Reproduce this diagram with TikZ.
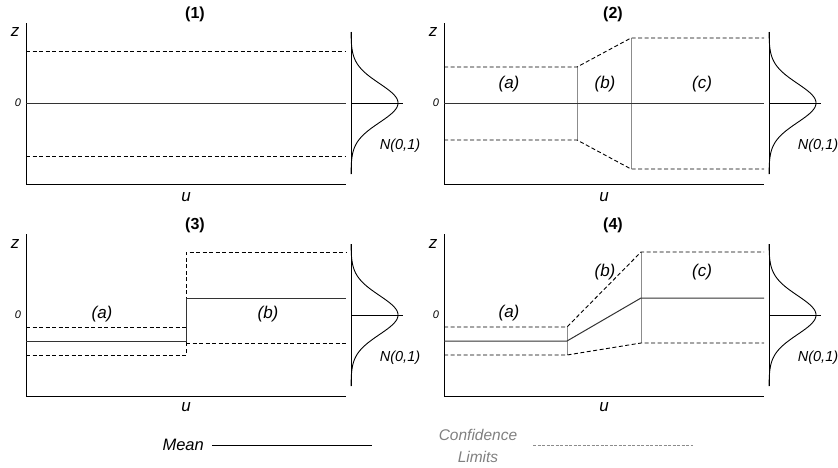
\documentclass[tikz,border=0pt]{standalone}
\usepackage{fontspec}
\setmainfont{Liberation Sans}
\begin{document}
\begin{tikzpicture}[x=1pt,y=-1pt,
  axisline/.style={black,line width=0.9pt},
  meanline/.style={black!80,line width=1pt},
  conf/.style={black,line width=0.9pt,dash pattern=on 4pt off 2.5pt},
  guide/.style={black!45,line width=0.8pt},
  lbl/.style={font=\itshape\fontsize{17}{17}\selectfont,inner sep=0pt},
  nlbl/.style={font=\itshape\fontsize{14.5}{14.5}\selectfont,inner sep=0pt},
  zero/.style={font=\itshape\fontsize{11}{11}\selectfont,inner sep=0pt},
  ttl/.style={font=\bfseries\fontsize{16}{16}\selectfont,inner sep=0pt},
  gcurve/.style={black,line width=0.9pt}]
\useasboundingbox (0,0) rectangle (838,467);
% gaussian macro
\newcommand{\gaussplot}[3]{%
  \draw[gcurve] (#1,#2-71) -- (#1,#2+71);
  \draw[gcurve] (#1,#2) -- (#1+52,#2);
  \draw[gcurve] plot[domain=-71:71,samples=140,smooth] ({#1+47*exp(-(\x)*(\x)/760)},{#2+\x});
  \node[nlbl] (#3) at (#1+49,#2+43) {N(0,1)};}
% ---------- panel 1
\node[ttl] (t1) at (195,14) {(1)};
\node[lbl] (z1) at (15,32) {z};
\node[zero] (o1) at (18,103) {0};
\node[lbl] (u1) at (186,197) {u};
\draw[axisline] (26,23) -- (26,184) -- (346,184);
\draw[meanline] (26,103) -- (346,103);
\draw[conf] (26,51) -- (346,51);
\draw[conf] (26,156) -- (346,156);
\gaussplot{351}{103}{n1}
% ---------- panel 2
\node[ttl] (t2) at (613,14) {(2)};
\node[lbl] (z2) at (433,32) {z};
\node[zero] (o2) at (436,103) {0};
\node[lbl] (u2) at (604,197) {u};
\draw[axisline] (444,23) -- (444,184) -- (764,184);
\draw[guide] (577,67) -- (577,140);
\draw[guide] (631,38) -- (631,169);
\draw[meanline] (444,103) -- (764,103);
\draw[conf] (444,67) -- (577,67) -- (631,38) -- (764,38);
\draw[conf] (444,140) -- (577,140) -- (631,169) -- (764,169);
\node[lbl] (a2) at (509,84) {(a)};
\node[lbl] (b2) at (605,84) {(b)};
\node[lbl] (c2) at (702,84) {(c)};
\gaussplot{769}{103}{n2}
% ---------- panel 3
\node[ttl] (t3) at (195,225) {(3)};
\node[lbl] (z3) at (15,244) {z};
\node[zero] (o3) at (18,315) {0};
\node[lbl] (u3) at (186,407) {u};
\draw[axisline] (26,234) -- (26,396) -- (346,396);
\draw[conf] (26,327) -- (186,327);
\draw[conf] (26,355) -- (186,355) -- (186,252) -- (346,252);
\draw[conf] (186,343) -- (346,343);
\draw[meanline] (26,341) -- (186,341) -- (186,298) -- (346,298);
\node[lbl] (a3) at (102,314) {(a)};
\node[lbl] (b3) at (268,314) {(b)};
\gaussplot{351}{315}{n3}
% ---------- panel 4
\node[ttl] (t4) at (613,225) {(4)};
\node[lbl] (z4) at (433,244) {z};
\node[zero] (o4) at (436,315) {0};
\node[lbl] (u4) at (604,407) {u};
\draw[axisline] (444,234) -- (444,396) -- (764,396);
\draw[guide] (567,327) -- (567,355);
\draw[guide] (641,252) -- (641,343);
\draw[conf] (444,327) -- (567,327) -- (641,252) -- (764,252);
\draw[conf] (444,355) -- (567,355) -- (641,343) -- (764,343);
\draw[meanline] (444,341) -- (567,341) -- (641,298) -- (764,298);
\node[lbl] (a4) at (509,313) {(a)};
\node[lbl] (b4) at (605,272) {(b)};
\node[lbl] (c4) at (702,272) {(c)};
\gaussplot{769}{315}{n4}
% ---------- legend
\node[inner sep=0pt,anchor=east,font=\itshape\fontsize{16.5}{16.5}\selectfont] (mean) at (204,445) {Mean};
\coordinate (m1) at (212,445);
\coordinate (m2) at (372,445);
\draw[black,line width=0.9pt] (m1) -- (m2);
\node[inner sep=0pt,text=black!50,align=center,font=\itshape\fontsize{15.5}{22}\selectfont] (conflbl) at (478,446) {Confidence\\Limits};
\coordinate (c1) at (533,445);
\coordinate (c2) at (693,445);
\draw[black!45,line width=0.6pt,dash pattern=on 3pt off 1.5pt] (c1) -- (c2);
\end{tikzpicture}
\end{document}
